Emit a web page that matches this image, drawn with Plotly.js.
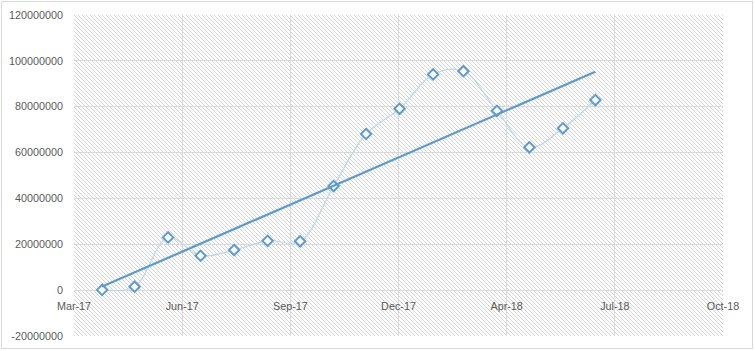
<!DOCTYPE html>
<html>
<head>
<meta charset="utf-8">
<script src="https://cdn.plot.ly/plotly-3.0.1.min.js"></script>
<style>
  html, body { margin: 0; padding: 0; background: #ffffff; }
  #wrap { position: relative; width: 755px; height: 351px; overflow: hidden; }
  #hatch {
    position: absolute; left: 74px; top: 15px; width: 649px; height: 321px;
    background-image: url("data:image/svg+xml;utf8,<svg xmlns='http://www.w3.org/2000/svg' width='4' height='4' shape-rendering='crispEdges'><rect x='0' y='0' width='1' height='1' fill='%23d4d4d4'/><rect x='1' y='1' width='1' height='1' fill='%23d4d4d4'/><rect x='2' y='2' width='1' height='1' fill='%23d4d4d4'/><rect x='3' y='3' width='1' height='1' fill='%23d4d4d4'/></svg>");
    background-repeat: repeat;
  }
  #chart { position: absolute; left: 0; top: 0; width: 755px; height: 351px; }
  #frame {
    position: absolute; left: 1px; top: 1px; width: 752px; height: 348px;
    box-sizing: border-box; border: 1px solid #d9d9d9; pointer-events: none;
  }
</style>
</head>
<body>
<div id="wrap">
  <div id="hatch"></div>
  <div id="chart"></div>
  <div id="frame"></div>
</div>
<script>
// ---- data ----
const dates = ['2017-04-01','2017-05-01','2017-06-01','2017-07-01','2017-08-01','2017-09-01',
               '2017-10-01','2017-11-01','2017-12-01','2018-01-01','2018-02-01','2018-03-01',
               '2018-04-01','2018-05-01','2018-06-01','2018-07-01'];
const values = [100000, 1500000, 23000000, 15000000, 17500000, 21500000,
                21300000, 45400000, 68100000, 79100000, 94100000, 95500000,
                78200000, 62300000, 70600000, 82900000];

const xTickVals = ['2017-03-06','2017-06-14','2017-09-22','2017-12-31','2018-04-10','2018-07-19','2018-10-27'];
const xTickLabels = ['Mar-17','Jun-17','Sep-17','Dec-17','Apr-18','Jul-18','Oct-18'];
const yTickVals = [-20000000, 0, 20000000, 40000000, 60000000, 80000000, 100000000, 120000000];
const yTickLabels = ['-20000000','0','20000000','40000000','60000000','80000000','100000000','120000000'];

// ---- linear trendline (least squares on time) ----
const xs = dates.map(d => new Date(d + 'T00:00:00Z').getTime());
const n = xs.length;
const mx = xs.reduce((a, b) => a + b, 0) / n;
const my = values.reduce((a, b) => a + b, 0) / n;
let sxy = 0, sxx = 0;
for (let i = 0; i < n; i++) { sxy += (xs[i] - mx) * (values[i] - my); sxx += (xs[i] - mx) ** 2; }
const slope = sxy / sxx;
const icpt = my - slope * mx;
const trendX = [dates[0], dates[n - 1]];
const trendY = [icpt + slope * xs[0], icpt + slope * xs[n - 1]];

const blue = '#5b9bd5';
const font = { family: 'Liberation Sans, Arial, sans-serif', size: 10.8, color: '#595959' };

const traces = [
  {
    x: dates, y: values, type: 'scatter', mode: 'lines+markers',
    line: { color: '#bdd7ee', width: 1.25, shape: 'spline', smoothing: 1 },
    marker: { symbol: 'diamond', size: 8, color: '#ffffff', line: { color: blue, width: 2 } },
    hoverinfo: 'x+y', cliponaxis: false
  },
  {
    x: trendX, y: trendY, type: 'scatter', mode: 'lines',
    line: { color: blue, width: 2.25 }, hoverinfo: 'skip'
  }
];

const layout = {
  width: 755, height: 351,
  margin: { l: 74, r: 32, t: 15, b: 15, pad: 0 },
  paper_bgcolor: 'rgba(0,0,0,0)',
  plot_bgcolor: 'rgba(0,0,0,0)',
  showlegend: false,
  font: font,
  xaxis: {
    type: 'date',
    range: ['2017-03-06', '2018-10-27'],
    tickmode: 'array', tickvals: xTickVals, ticktext: xTickLabels,
    showgrid: true, gridcolor: '#d9d9d9', gridwidth: 1,
    zeroline: false, showline: false, ticks: '',
    anchor: 'free', position: 20 / 140,
    ticklabelstandoff: 8,
    tickfont: font
  },
  yaxis: {
    range: [-20000000, 120000000],
    tickmode: 'array', tickvals: yTickVals, ticktext: yTickLabels,
    showgrid: true, gridcolor: '#d9d9d9', gridwidth: 1,
    zeroline: false, showline: false, ticks: '',
    ticklabelstandoff: 10,
    tickfont: font
  }
};

Plotly.newPlot('chart', traces, layout, { staticPlot: true, displayModeBar: false });
</script>
</body>
</html>
